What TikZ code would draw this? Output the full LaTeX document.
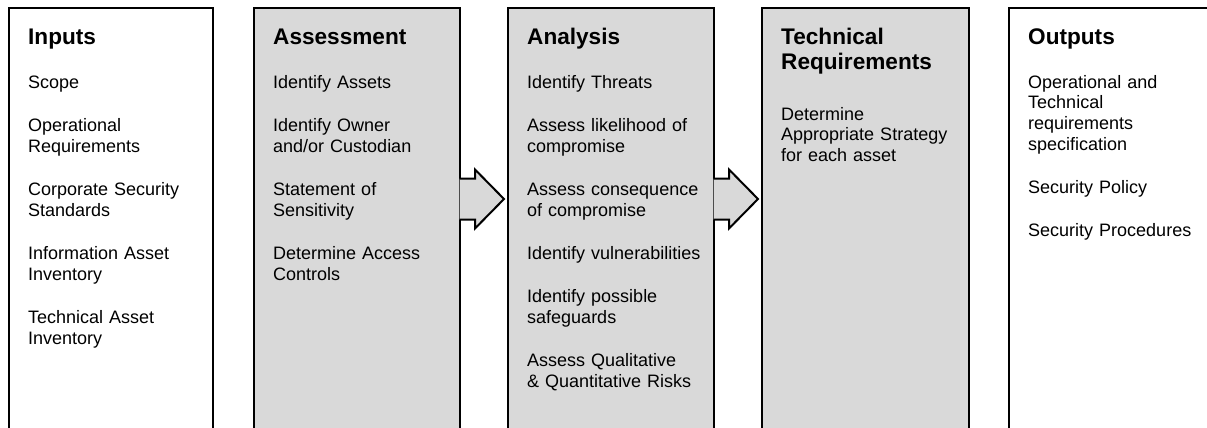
\documentclass[tikz,border=0pt]{standalone}
\usepackage{fontspec}
\setmainfont{Liberation Sans}
\usetikzlibrary{calc}

\definecolor{panelgray}{RGB}{217,217,217}

% heading of a column, bigger and bold
\newcommand{\coltitle}[1]{{\fontsize{22.6}{25}\selectfont\bfseries #1\par}}

% block arrow leaving the right side of a stage box
\newcommand{\stagearrow}[1]{%
  \filldraw[stageline, fill=panelgray]
    ($(#1.east)+(-1.5,-40)$) -- ++(15.5,0) -- ++(0,-9)
    -- ++(29,29.5) -- ++(-29,29.5) -- ++(0,-9) -- ++(-15.5,0);}

\begin{document}
\begin{tikzpicture}[x=1pt, y=-1pt,
    stageline/.style = {draw=black, line width=2pt, miter limit=10},
    stage/.style = {stageline, rectangle, anchor=north west, inner sep=0,
      minimum width=206pt, minimum height=421pt},
    coltext/.style = {anchor=base west, inner sep=0, align=left,
      text width=182pt, font=\fontsize{18}{20.7}\selectfont,
      execute at begin node={\setlength{\parskip}{22.6pt}}}]
  \clip (0,0) rectangle (1207,428);

  % the five columns
  \node[stage, fill=white, minimum width=204pt] (inputs) at (8,7) {};
  \node[stage, fill=panelgray] (assess) at (253,7) {};
  \node[stage, fill=panelgray] (analysis) at (507,7) {};
  \node[stage, fill=panelgray, minimum width=207pt] (techreq) at (761,7) {};
  \node[stage, fill=white, minimum width=206pt] (outputs) at (1008,7) {};

  \stagearrow{assess}
  \stagearrow{analysis}

  \node[coltext] (inputs-txt) at ($(inputs.north west)+(20,38)$)
    {\coltitle{Inputs}
     Scope\par
     Operational\\Requirements\par
     Corporate Security\\Standards\par
     Information Asset\\Inventory\par
     Technical Asset\\Inventory};
  \node[coltext] (assess-txt) at ($(assess.north west)+(20,38)$)
    {\coltitle{Assessment}
     Identify Assets\par
     Identify Owner\\and/or Custodian\par
     Statement of\\Sensitivity\par
     Determine Access\\Controls};
  \node[coltext] (analysis-txt) at ($(analysis.north west)+(20,38)$)
    {\coltitle{Analysis}
     Identify Threats\par
     Assess likelihood of\\compromise\par
     Assess consequence\\of compromise\par
     Identify vulnerabilities\par
     Identify possible\\safeguards\par
     Assess Qualitative\\\& Quantitative Risks};
  \node[coltext] (techreq-txt) at ($(techreq.north west)+(20,38)$)
    {\coltitle{Technical\\Requirements}
     \vspace{7pt}
     Determine\\Appropriate Strategy\\for each asset};
  \node[coltext] (outputs-txt) at ($(outputs.north west)+(20,38)$)
    {\coltitle{Outputs}
     Operational and\\Technical\\requirements\\specification\par
     Security Policy\par
     Security Procedures};
\end{tikzpicture}
\end{document}
